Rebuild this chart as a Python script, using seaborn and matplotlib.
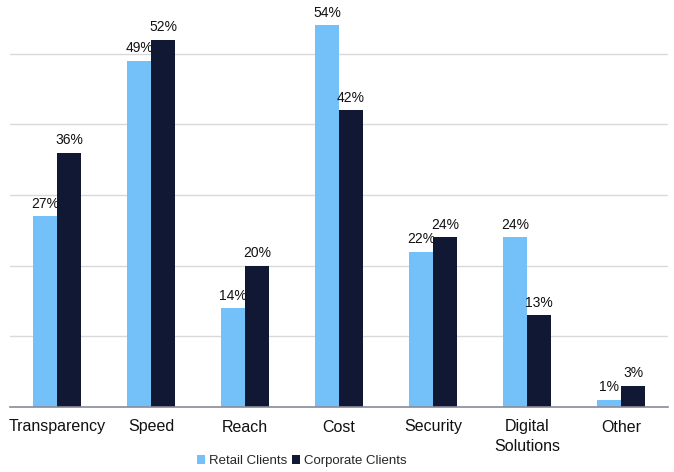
import matplotlib
matplotlib.use("Agg")
import matplotlib.pyplot as plt
import seaborn as sns
import pandas as pd
from matplotlib.patches import Patch

categories = ["Transparency", "Speed", "Reach", "Cost", "Security", "Digital\nSolutions", "Other"]
series_names = ["Retail Clients", "Corporate Clients"]
retail = [27, 49, 14, 54, 22, 24, 1]
corporate = [36, 52, 20, 42, 24, 13, 3]
colors = ["#74C1FA", "#111833"]

df = pd.DataFrame({
    "category": categories * 2,
    "series": [series_names[0]] * len(categories) + [series_names[1]] * len(categories),
    "value": retail + corporate,
})

sns.set_theme(style="white")
plt.rcParams["font.family"] = ["Liberation Sans", "DejaVu Sans"]

fig = plt.figure(figsize=(6.74, 4.72), dpi=100)
ax = fig.add_axes([10 / 674, 1 - 407 / 472, 658 / 674, 407 / 472])

sns.barplot(data=df, x="category", y="value", hue="series", palette=colors,
            width=0.51, gap=0, ax=ax, legend=False, saturation=1, linewidth=0)

ax.set_ylim(0, 57.6)
ax.set_yticks([10, 20, 30, 40, 50])
ax.yaxis.grid(True, color="#d9d9d9", linewidth=1)
ax.set_axisbelow(True)
ax.set_yticklabels([])
ax.tick_params(axis="y", length=0)
ax.tick_params(axis="x", length=0, labelsize=11.5, pad=9, colors="#111111")
for lbl in ax.get_xticklabels():
    lbl.set_linespacing(1.35)
ax.set_xlabel("")
ax.set_ylabel("")
for s in ["top", "right", "left"]:
    ax.spines[s].set_visible(False)
ax.spines["bottom"].set_color("#8a8a99")
ax.spines["bottom"].set_linewidth(1.2)

for cont in ax.containers:
    ax.bar_label(cont, labels=[f"{int(round(v))}%" for v in cont.datavalues],
                 padding=4, fontsize=10, color="#111111")

handles = [Patch(facecolor=c, edgecolor="none") for c in colors]
fig.legend(handles, series_names, loc="center", bbox_to_anchor=(0.448, 0.023),
           ncol=2, frameon=False, fontsize=9.5, handlelength=0.6, handleheight=0.6,
           handletextpad=0.3, columnspacing=0.4)

fig.savefig("out.png", dpi=100)
